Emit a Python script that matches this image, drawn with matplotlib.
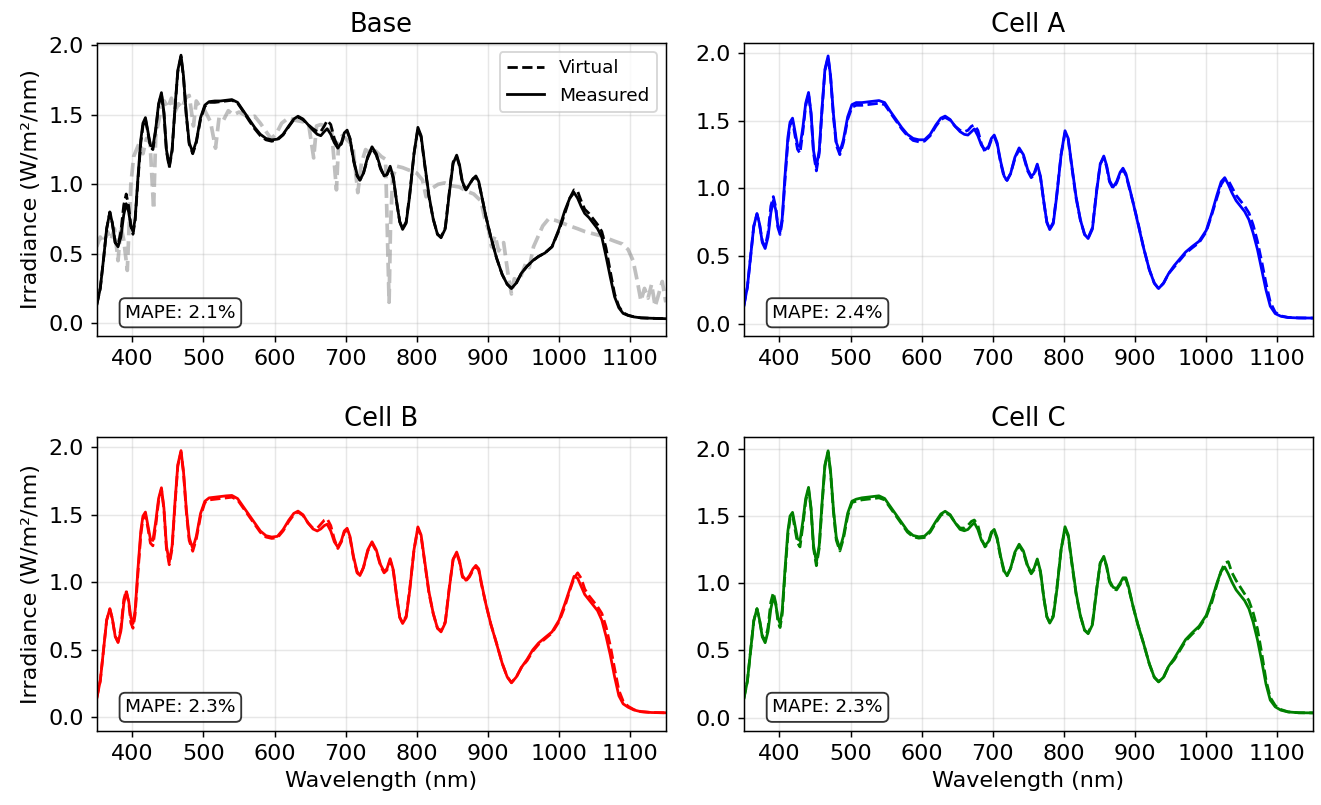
import matplotlib
matplotlib.use("Agg")
import matplotlib.pyplot as plt
import numpy as np

# ---------------- data ----------------
WL = [350, 355, 360, 364, 368.5, 372, 376, 380, 384, 388,
      391.5, 395, 398, 401, 404, 408, 412, 415, 418.5, 422,
      425.5, 429, 433, 437, 441, 444.5, 448, 452, 456, 460,
      464, 468.5, 472, 476, 480, 485, 490, 496, 502, 508,
      516, 524, 532, 540, 548, 556, 564, 572, 580, 588,
      596, 604, 612, 620, 627, 633, 640, 647, 654, 660,
      665, 670, 674, 679, 684, 689, 694, 698, 702, 706,
      711, 716, 720, 725, 731, 737, 743, 749, 754, 758,
      762.5, 767, 772, 776, 780, 785, 790, 796, 801.5, 806,
      811, 817, 823, 829, 834, 840, 846, 851, 856, 860,
      864, 869, 874, 879, 883, 887, 891, 897, 904, 912,
      920, 927, 933, 940, 947, 955, 963, 971, 980, 990,
      1000, 1008, 1015, 1021, 1026, 1031, 1036, 1042, 1048, 1054,
      1060, 1066, 1072, 1078, 1084, 1090, 1097, 1105, 1115, 1130,
      1150]

base_measured = [0.13, 0.25, 0.48, 0.68, 0.80, 0.72, 0.58, 0.55, 0.62, 0.78,
                 0.86, 0.80, 0.70, 0.66, 0.75, 1.05, 1.32, 1.44, 1.48, 1.38,
                 1.28, 1.27, 1.40, 1.58, 1.66, 1.52, 1.25, 1.13, 1.25, 1.55,
                 1.82, 1.93, 1.78, 1.50, 1.30, 1.23, 1.31, 1.48, 1.57, 1.595,
                 1.60, 1.60, 1.605, 1.61, 1.59, 1.53, 1.47, 1.41, 1.36, 1.33,
                 1.32, 1.325, 1.36, 1.42, 1.47, 1.49, 1.47, 1.43, 1.39, 1.36,
                 1.35, 1.38, 1.40, 1.36, 1.30, 1.26, 1.30, 1.37, 1.39, 1.33,
                 1.18, 1.07, 1.03, 1.08, 1.20, 1.27, 1.22, 1.12, 1.06, 1.07,
                 1.13, 1.05, 0.86, 0.73, 0.675, 0.72, 0.92, 1.22, 1.41, 1.35,
                 1.15, 0.92, 0.75, 0.64, 0.615, 0.68, 0.95, 1.15, 1.21, 1.14,
                 1.02, 0.96, 1.00, 1.04, 1.06, 1.02, 0.92, 0.77, 0.62, 0.47,
                 0.35, 0.28, 0.25, 0.29, 0.36, 0.41, 0.45, 0.48, 0.505, 0.55,
                 0.68, 0.81, 0.90, 0.94, 0.90, 0.84, 0.79, 0.76, 0.72, 0.68,
                 0.62, 0.48, 0.33, 0.19, 0.11, 0.07, 0.055, 0.045, 0.038, 0.035,
                 0.032]
base_virtual = [0.13, 0.25, 0.48, 0.68, 0.80, 0.72, 0.58, 0.56, 0.66, 0.85,
                0.93, 0.84, 0.70, 0.64, 0.74, 1.03, 1.30, 1.42, 1.47, 1.37,
                1.27, 1.25, 1.39, 1.57, 1.65, 1.51, 1.24, 1.12, 1.24, 1.54,
                1.81, 1.92, 1.77, 1.49, 1.29, 1.22, 1.30, 1.47, 1.56, 1.59,
                1.59, 1.595, 1.60, 1.605, 1.585, 1.525, 1.46, 1.40, 1.35, 1.32,
                1.31, 1.32, 1.355, 1.415, 1.465, 1.485, 1.465, 1.43, 1.40, 1.38,
                1.38, 1.42, 1.46, 1.43, 1.33, 1.27, 1.29, 1.36, 1.38, 1.33,
                1.17, 1.06, 1.03, 1.08, 1.19, 1.26, 1.21, 1.11, 1.06, 1.07,
                1.12, 1.04, 0.86, 0.73, 0.68, 0.73, 0.93, 1.22, 1.40, 1.34,
                1.14, 0.91, 0.75, 0.64, 0.62, 0.69, 0.96, 1.16, 1.20, 1.13,
                1.01, 0.96, 1.00, 1.04, 1.05, 1.01, 0.92, 0.77, 0.62, 0.47,
                0.35, 0.28, 0.25, 0.29, 0.36, 0.41, 0.45, 0.48, 0.505, 0.55,
                0.67, 0.79, 0.90, 0.96, 0.95, 0.88, 0.82, 0.79, 0.75, 0.71,
                0.66, 0.54, 0.37, 0.21, 0.12, 0.075, 0.057, 0.046, 0.038, 0.035,
                0.032]

cellA_measured = [0.13, 0.27, 0.52, 0.72, 0.815, 0.74, 0.60, 0.556, 0.64, 0.82,
                  0.91, 0.84, 0.72, 0.68, 0.78, 1.10, 1.38, 1.49, 1.52, 1.42,
                  1.32, 1.31, 1.45, 1.63, 1.71, 1.56, 1.28, 1.16, 1.28, 1.60,
                  1.88, 1.98, 1.83, 1.55, 1.34, 1.27, 1.36, 1.53, 1.62, 1.635,
                  1.635, 1.64, 1.645, 1.65, 1.635, 1.57, 1.51, 1.45, 1.40, 1.37,
                  1.36, 1.36, 1.40, 1.47, 1.52, 1.535, 1.51, 1.46, 1.42, 1.40,
                  1.395, 1.42, 1.44, 1.39, 1.32, 1.285, 1.31, 1.37, 1.395, 1.34,
                  1.20, 1.09, 1.06, 1.11, 1.23, 1.30, 1.25, 1.14, 1.09, 1.11,
                  1.18, 1.09, 0.89, 0.75, 0.696, 0.74, 0.95, 1.25, 1.427, 1.37,
                  1.17, 0.94, 0.77, 0.66, 0.63, 0.70, 0.98, 1.18, 1.24, 1.17,
                  1.06, 1.01, 1.05, 1.12, 1.15, 1.11, 1.03, 0.90, 0.74, 0.56,
                  0.40, 0.30, 0.26, 0.30, 0.37, 0.43, 0.48, 0.53, 0.57, 0.61,
                  0.69, 0.82, 0.95, 1.05, 1.08, 1.03, 0.97, 0.91, 0.87, 0.83,
                  0.77, 0.67, 0.55, 0.40, 0.25, 0.13, 0.075, 0.055, 0.046, 0.043,
                  0.042]
cellA_virtual = [0.13, 0.27, 0.52, 0.72, 0.81, 0.74, 0.61, 0.57, 0.67, 0.87,
                 0.94, 0.86, 0.71, 0.66, 0.76, 1.07, 1.35, 1.47, 1.50, 1.39,
                 1.29, 1.26, 1.42, 1.61, 1.70, 1.55, 1.26, 1.13, 1.26, 1.58,
                 1.87, 1.97, 1.82, 1.53, 1.32, 1.25, 1.34, 1.51, 1.60, 1.615,
                 1.615, 1.62, 1.625, 1.63, 1.62, 1.56, 1.50, 1.44, 1.39, 1.355,
                 1.345, 1.35, 1.39, 1.46, 1.51, 1.525, 1.505, 1.46, 1.43, 1.42,
                 1.43, 1.46, 1.47, 1.43, 1.33, 1.27, 1.30, 1.36, 1.385, 1.33,
                 1.19, 1.08, 1.06, 1.11, 1.22, 1.29, 1.24, 1.13, 1.08, 1.10,
                 1.17, 1.08, 0.89, 0.75, 0.70, 0.75, 0.96, 1.25, 1.41, 1.36,
                 1.16, 0.93, 0.77, 0.66, 0.635, 0.71, 0.99, 1.18, 1.23, 1.16,
                 1.05, 1.00, 1.04, 1.11, 1.14, 1.10, 1.02, 0.90, 0.75, 0.56,
                 0.40, 0.30, 0.26, 0.30, 0.37, 0.42, 0.47, 0.52, 0.56, 0.60,
                 0.68, 0.81, 0.93, 1.03, 1.07, 1.06, 1.01, 0.95, 0.91, 0.87,
                 0.82, 0.73, 0.61, 0.46, 0.30, 0.16, 0.085, 0.058, 0.047, 0.043,
                 0.042]

cellB_measured = [0.14, 0.27, 0.52, 0.72, 0.805, 0.73, 0.60, 0.554, 0.64, 0.84,
                  0.93, 0.86, 0.74, 0.695, 0.79, 1.10, 1.38, 1.49, 1.52, 1.42,
                  1.32, 1.31, 1.45, 1.62, 1.70, 1.55, 1.27, 1.15, 1.27, 1.59,
                  1.87, 1.975, 1.82, 1.54, 1.33, 1.25, 1.34, 1.51, 1.60, 1.625,
                  1.63, 1.635, 1.64, 1.643, 1.62, 1.56, 1.50, 1.44, 1.38, 1.345,
                  1.335, 1.34, 1.39, 1.46, 1.51, 1.527, 1.50, 1.44, 1.395, 1.38,
                  1.395, 1.42, 1.43, 1.38, 1.30, 1.26, 1.31, 1.38, 1.40, 1.34,
                  1.19, 1.08, 1.05, 1.11, 1.24, 1.30, 1.24, 1.13, 1.08, 1.10,
                  1.175, 1.09, 0.88, 0.74, 0.695, 0.74, 0.94, 1.24, 1.41, 1.35,
                  1.16, 0.93, 0.77, 0.66, 0.633, 0.70, 0.97, 1.17, 1.224, 1.16,
                  1.05, 1.015, 1.05, 1.10, 1.125, 1.10, 0.99, 0.84, 0.69, 0.547,
                  0.40, 0.30, 0.256, 0.30, 0.37, 0.43, 0.50, 0.55, 0.59, 0.633,
                  0.72, 0.84, 0.95, 1.044, 1.03, 0.97, 0.91, 0.87, 0.83, 0.79,
                  0.72, 0.60, 0.46, 0.30, 0.16, 0.10, 0.075, 0.055, 0.042, 0.036,
                  0.034]
cellB_virtual = [0.14, 0.27, 0.52, 0.72, 0.80, 0.73, 0.60, 0.56, 0.66, 0.87,
                 0.94, 0.85, 0.70, 0.66, 0.76, 1.07, 1.35, 1.47, 1.50, 1.40,
                 1.29, 1.27, 1.42, 1.60, 1.69, 1.54, 1.25, 1.13, 1.25, 1.57,
                 1.86, 1.965, 1.81, 1.52, 1.31, 1.23, 1.32, 1.49, 1.59, 1.61,
                 1.615, 1.62, 1.625, 1.63, 1.61, 1.55, 1.49, 1.43, 1.37, 1.335,
                 1.325, 1.33, 1.38, 1.45, 1.50, 1.52, 1.495, 1.44, 1.40, 1.40,
                 1.43, 1.46, 1.47, 1.42, 1.32, 1.25, 1.30, 1.37, 1.39, 1.33,
                 1.18, 1.07, 1.05, 1.11, 1.23, 1.29, 1.23, 1.12, 1.07, 1.09,
                 1.165, 1.08, 0.88, 0.74, 0.70, 0.75, 0.95, 1.24, 1.40, 1.34,
                 1.15, 0.92, 0.77, 0.66, 0.64, 0.71, 0.98, 1.17, 1.215, 1.15,
                 1.04, 1.01, 1.04, 1.09, 1.115, 1.09, 0.98, 0.84, 0.69, 0.55,
                 0.40, 0.30, 0.258, 0.30, 0.37, 0.42, 0.49, 0.54, 0.58, 0.625,
                 0.71, 0.82, 0.94, 1.03, 1.07, 1.03, 0.95, 0.90, 0.86, 0.82,
                 0.77, 0.67, 0.53, 0.36, 0.20, 0.12, 0.082, 0.058, 0.043, 0.036,
                 0.034]

cellC_measured = [0.14, 0.27, 0.52, 0.72, 0.81, 0.73, 0.60, 0.557, 0.64, 0.81,
                  0.896, 0.84, 0.74, 0.70, 0.80, 1.11, 1.39, 1.50, 1.527, 1.43,
                  1.33, 1.317, 1.46, 1.63, 1.713, 1.56, 1.28, 1.156, 1.28, 1.60,
                  1.88, 1.985, 1.83, 1.55, 1.34, 1.255, 1.35, 1.52, 1.61, 1.625,
                  1.635, 1.64, 1.645, 1.65, 1.63, 1.57, 1.51, 1.45, 1.39, 1.355,
                  1.345, 1.35, 1.39, 1.46, 1.515, 1.535, 1.51, 1.45, 1.40, 1.39,
                  1.40, 1.43, 1.45, 1.40, 1.32, 1.28, 1.31, 1.38, 1.40, 1.34,
                  1.20, 1.09, 1.057, 1.11, 1.23, 1.29, 1.24, 1.13, 1.08, 1.11,
                  1.18, 1.09, 0.88, 0.75, 0.703, 0.75, 0.95, 1.25, 1.42, 1.36,
                  1.16, 0.93, 0.76, 0.65, 0.624, 0.69, 0.95, 1.15, 1.20, 1.13,
                  1.02, 0.97, 0.96, 1.00, 1.04, 1.04, 0.97, 0.83, 0.69, 0.55,
                  0.40, 0.30, 0.265, 0.30, 0.38, 0.44, 0.51, 0.58, 0.63, 0.68,
                  0.76, 0.88, 1.00, 1.09, 1.12, 1.07, 1.01, 0.95, 0.91, 0.87,
                  0.81, 0.71, 0.58, 0.42, 0.25, 0.13, 0.08, 0.055, 0.042, 0.036,
                  0.035]
cellC_virtual = [0.14, 0.27, 0.52, 0.72, 0.81, 0.73, 0.61, 0.57, 0.67, 0.86,
                 0.93, 0.85, 0.71, 0.67, 0.77, 1.08, 1.36, 1.48, 1.51, 1.40,
                 1.30, 1.27, 1.43, 1.61, 1.70, 1.55, 1.26, 1.13, 1.26, 1.58,
                 1.87, 1.975, 1.82, 1.53, 1.32, 1.24, 1.33, 1.50, 1.60, 1.61,
                 1.62, 1.625, 1.63, 1.635, 1.62, 1.56, 1.50, 1.44, 1.38, 1.345,
                 1.335, 1.34, 1.38, 1.45, 1.505, 1.525, 1.505, 1.45, 1.41, 1.41,
                 1.43, 1.46, 1.47, 1.43, 1.33, 1.27, 1.30, 1.37, 1.39, 1.33,
                 1.19, 1.08, 1.055, 1.11, 1.22, 1.28, 1.23, 1.12, 1.07, 1.10,
                 1.17, 1.08, 0.88, 0.75, 0.71, 0.76, 0.96, 1.25, 1.40, 1.35,
                 1.15, 0.92, 0.76, 0.65, 0.63, 0.70, 0.96, 1.15, 1.19, 1.12,
                 1.01, 0.96, 0.95, 0.99, 1.03, 1.03, 0.96, 0.83, 0.69, 0.55,
                 0.40, 0.30, 0.268, 0.30, 0.38, 0.43, 0.50, 0.57, 0.62, 0.67,
                 0.75, 0.86, 0.99, 1.09, 1.15, 1.16, 1.08, 1.02, 0.97, 0.92,
                 0.87, 0.78, 0.66, 0.48, 0.28, 0.15, 0.09, 0.06, 0.043, 0.036,
                 0.035]

# reference (grey dashed) spectrum shown in the Base panel
REF_WL = [350, 355, 360, 365, 370, 375, 380, 384, 388, 393,
          396, 398, 402, 406, 410, 415, 420, 425, 430, 433,
          437, 441, 445, 450, 455, 460, 465, 470, 475, 480,
          486, 490, 495, 500, 505, 510, 517, 522, 528, 535,
          542, 550, 558, 565, 572, 580, 588, 595, 602, 610,
          620, 630, 640, 648, 655, 659, 665, 672, 680, 687,
          690, 695, 702, 710, 717, 722, 728, 735, 742, 750,
          756, 759, 761, 763, 766, 772, 780, 790, 800, 808,
          813, 818, 824, 830, 839, 848, 860, 870, 880, 890,
          897, 901, 905, 910, 915, 922, 928, 933, 937, 943,
          948, 953, 958, 964, 970, 977, 985, 995, 1005, 1015,
          1026, 1036, 1047, 1058, 1068, 1078, 1089, 1097, 1104, 1110,
          1115, 1120, 1125, 1130, 1135, 1140, 1145, 1150]
ref_values = [0.55, 0.62, 0.58, 0.66, 0.60, 0.68, 0.45, 0.70, 0.60, 0.38,
              0.75, 1.00, 1.20, 1.25, 1.30, 1.22, 1.33, 1.30, 0.82, 1.35,
              1.45, 1.55, 1.60, 1.55, 1.62, 1.52, 1.58, 1.55, 1.62, 1.64,
              1.42, 1.60, 1.56, 1.55, 1.50, 1.45, 1.26, 1.48, 1.46, 1.53,
              1.50, 1.52, 1.50, 1.48, 1.49, 1.44, 1.38, 1.33, 1.36, 1.44,
              1.48, 1.46, 1.45, 1.43, 1.19, 1.42, 1.43, 1.42, 1.40, 0.96,
              1.30, 1.35, 1.32, 1.28, 0.94, 1.15, 1.25, 1.22, 1.24, 1.20,
              1.18, 0.55, 0.15, 0.70, 1.05, 1.13, 1.12, 1.10, 1.08, 1.03,
              0.91, 0.96, 0.98, 1.00, 1.01, 0.99, 0.98, 0.95, 0.93, 0.88,
              0.72, 0.67, 0.55, 0.63, 0.52, 0.58, 0.36, 0.21, 0.32, 0.30,
              0.36, 0.43, 0.40, 0.55, 0.62, 0.70, 0.75, 0.74, 0.72, 0.70,
              0.68, 0.66, 0.645, 0.63, 0.61, 0.59, 0.57, 0.53, 0.45, 0.30,
              0.16, 0.25, 0.18, 0.28, 0.12, 0.21, 0.30, 0.15]

titles = ["Base", "Cell A", "Cell B", "Cell C"]
colors = ["black", "blue", "red", "green"]
mape_values = [2.1, 2.4, 2.3, 2.3]
measured = [base_measured, cellA_measured, cellB_measured, cellC_measured]
virtual = [base_virtual, cellA_virtual, cellB_virtual, cellC_virtual]
ylims = [(-0.096, 2.02), (-0.094, 2.078), (-0.101, 2.074), (-0.10, 2.086)]
x_ticks = [400, 500, 600, 700, 800, 900, 1000, 1100]
y_ticks = [0.0, 0.5, 1.0, 1.5, 2.0]

# ---------------- plot ----------------
DPI = 133.3333
fig, axes = plt.subplots(2, 2, figsize=(1321 / DPI, 805 / DPI), dpi=DPI)
fig.subplots_adjust(left=0.0732, right=0.9939, top=0.947, bottom=0.0919,
                    wspace=0.137, hspace=0.343)

for i, ax in enumerate(axes.flat):
    c = colors[i]
    if i == 0:
        ax.plot(REF_WL, ref_values, color="gray", alpha=0.5, lw=2, ls="--")
    ax.plot(WL, virtual[i], color=c, ls="--", lw=1.5, label="Virtual")
    ax.plot(WL, measured[i], color=c, ls="-", lw=1.5, label="Measured")
    ax.set_xlim(350, 1150)
    ax.set_ylim(*ylims[i])
    ax.set_xticks(x_ticks)
    ax.set_yticks(y_ticks)
    ax.tick_params(labelsize=12)
    ax.grid(True, alpha=0.3)
    ax.set_title(titles[i], fontsize=14)
    ax.text(0.05, 0.05, f"MAPE: {mape_values[i]}%", transform=ax.transAxes,
            fontsize=10, ha="left", va="bottom",
            bbox=dict(boxstyle="round,pad=0.3", facecolor="white",
                      edgecolor="black", alpha=0.8))
    if i % 2 == 0:
        ax.set_ylabel("Irradiance (W/m²/nm)", fontsize=12)
    if i >= 2:
        ax.set_xlabel("Wavelength (nm)", fontsize=12)
    if i == 0:
        ax.legend(loc="upper right", fontsize=10)

fig.savefig("out.png", dpi=DPI)
